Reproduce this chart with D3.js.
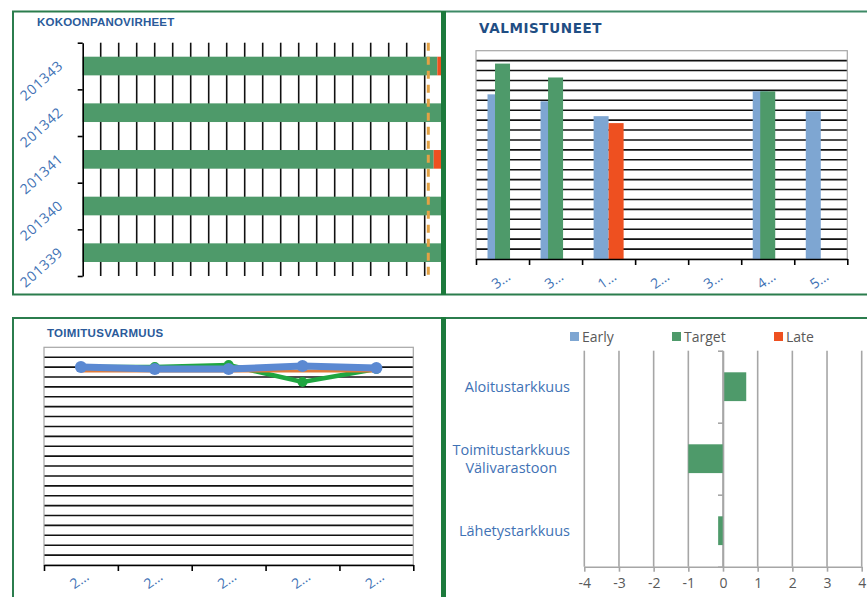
<!DOCTYPE html>
<html><head><meta charset="utf-8">
<script src="https://cdn.jsdelivr.net/npm/d3@7"></script>
<style>body{margin:0;background:#fff;} svg{display:block;}</style>
</head><body>
<svg id="c" width="867" height="597"></svg>
<script>
// ---------------- data ----------------
const weeks = ["201339", "201340", "201341", "201342", "201343"];
const assemblyOk = [20.5, 20.5, 19.5, 20.5, 19.7];
const assemblyLate = [0, 0, 1.5, 0, 1.5];
const assemblyLimit = 19.2;
const assemblyGrid = d3.range(1, 20);

const completedCats = ["3…", "3…", "1…", "2…", "3…", "4…", "5…"];
const completedEarly = [16.6, 15.9, 14.4, 0, 0, 16.9, 14.9];
const completedTarget = [19.7, 18.3, 0, 0, 0, 16.9, 0];
const completedLate = [0, 0, 13.7, 0, 0, 0, 0];
const completedGrid = d3.range(1, 21);

const deliveryCats = ["2…", "2…", "2…", "2…", "2…"];
const deliveryActual = [20.0, 19.8, 19.8, 20.1, 19.9];
const deliveryTarget = [20.0, 20.0, 20.2, 18.5, 19.8];
const deliveryLimit = [19.6, 19.6, 19.6, 19.6, 19.6];
const deliveryGrid = d3.range(1, 22);

const accuracyCats = ["Aloitustarkkuus", "Toimitustarkkuus\nVälivarastoon", "Lähetystarkkuus"];
const accuracyEarly = [0, 0, 0];
const accuracyTarget = [0.67, -1.0, -0.14];
const accuracyLate = [0, 0, 0];
const accuracyTicks = [-4, -3, -2, -1, 0, 1, 2, 3, 4];
const seriesNames = ["Early", "Target", "Late"];

// ---------------- styles ----------------
const C = { early: "#7ea6d2", target: "#4e9a6a", late: "#ee5020", frame: "#2b7d4d", thick: "#1c7a3c",
            title: "#2a5a9a", label: "#3f72b5", grid: "#111", border: "#a6a6a6" };
const FONT = "'Open Sans', 'Liberation Sans', sans-serif";

const svg = d3.select("#c");
const defs = svg.append("defs");

// ================= Panel 1: KOKOONPANOVIRHEET =================
defs.append("clipPath").attr("id", "clip1").append("rect").attr("x", 14).attr("y", 12).attr("width", 427).attr("height", 282);
const p1 = svg.append("g").attr("clip-path", "url(#clip1)");
const x1 = d3.scaleLinear().domain([0, 19]).range([82.7, 424.7]);
const y1 = d3.scaleBand().domain(weeks).range([276, 42.7]).paddingInner(0.6).paddingOuter(0.3);
const y1b = d3.scaleLinear().domain([0, weeks.length]).range([276, 42.7]);

p1.selectAll(".g1").data(assemblyGrid).join("line")
  .attr("x1", d => x1(d)).attr("x2", d => x1(d)).attr("y1", 42.7).attr("y2", 276)
  .attr("stroke", C.grid).attr("stroke-width", 1.6);

p1.selectAll(".ok").data(weeks).join("rect")
  .attr("x", x1(0)).attr("y", d => y1(d)).attr("height", y1.bandwidth())
  .attr("width", (d, i) => x1(assemblyOk[i]) - x1(0)).attr("fill", C.target);
p1.selectAll(".late").data(weeks).join("rect")
  .attr("x", (d, i) => x1(assemblyOk[i])).attr("y", d => y1(d)).attr("height", y1.bandwidth())
  .attr("width", (d, i) => x1(assemblyOk[i] + assemblyLate[i]) - x1(assemblyOk[i])).attr("fill", C.late);

p1.append("line").attr("x1", x1(assemblyLimit)).attr("x2", x1(assemblyLimit)).attr("y1", 42.7).attr("y2", 276)
  .attr("stroke", "#e3a245").attr("stroke-width", 3).attr("stroke-dasharray", "8,6");

p1.append("g").attr("transform", `translate(${x1(0)},0)`)
  .call(d3.axisLeft(y1b).tickValues(d3.range(weeks.length + 1)).tickFormat("").tickSize(5).tickSizeOuter(0))
  .call(g => g.selectAll("line,path").attr("stroke", "#000").attr("stroke-width", 1.6));

p1.selectAll(".wk").data(weeks).join("text")
  .attr("transform", d => `translate(64,${y1(d) + y1.bandwidth() / 2 + 1}) rotate(-42)`)
  .attr("text-anchor", "end").attr("font-family", FONT).attr("font-size", 14).attr("letter-spacing", 0.6)
  .attr("fill", C.label).text(d => d);

svg.append("text").attr("x", 37).attr("y", 26).attr("font-family", "'Liberation Sans', sans-serif")
  .attr("font-weight", "bold").attr("font-size", 11.5).attr("letter-spacing", 0.2).attr("fill", C.title).text("KOKOONPANOVIRHEET");

// ================= Panel 2: VALMISTUNEET =================
const x2 = d3.scaleBand().domain(d3.range(completedCats.length)).range([476, 847.3]);
const x2b = d3.scaleLinear().domain([0, completedCats.length]).range([476, 847.3]);
const y2 = d3.scaleLinear().domain([0, 21]).range([259, 50.7]);
const sub2 = d3.scalePoint().domain(seriesNames).range([x2.step() * 0.217, x2.step() * 0.5]);
const bw2 = x2.step() * 0.283;
const p2 = svg.append("g");

p2.selectAll(".g2").data(completedGrid).join("line")
  .attr("x1", 476).attr("x2", 847.3).attr("y1", d => y2(d)).attr("y2", d => y2(d))
  .attr("stroke", C.grid).attr("stroke-width", 1.6);
p2.append("rect").attr("x", 476).attr("y", y2(21)).attr("width", 847.3 - 476).attr("height", y2(0) - y2(21))
  .attr("fill", "none").attr("stroke", C.border).attr("stroke-width", 1.2);

const comp = [["Early", completedEarly, C.early], ["Target", completedTarget, C.target], ["Late", completedLate, C.late]];
comp.forEach(([name, vals, col]) => {
  p2.selectAll(".b" + name).data(vals).join("rect")
    .attr("x", (d, i) => x2(i) + sub2(name)).attr("width", bw2)
    .attr("y", d => y2(d)).attr("height", d => y2(0) - y2(d)).attr("fill", col);
});

p2.append("g").attr("transform", `translate(0,${y2(0)})`)
  .call(d3.axisBottom(x2b).tickValues(d3.range(completedCats.length + 1)).tickFormat("").tickSize(6).tickSizeOuter(0))
  .call(g => g.selectAll("line,path").attr("stroke", "#000").attr("stroke-width", 1.6));

p2.selectAll(".xl2").data(completedCats).join("text")
  .attr("transform", (d, i) => `translate(${x2(i) + x2.step() / 2 - 1},281) rotate(-35)`)
  .attr("text-anchor", "middle").attr("dominant-baseline", "middle")
  .attr("font-family", FONT).attr("font-size", 14).attr("fill", C.label).text(d => d);

svg.append("text").attr("x", 479).attr("y", 33).attr("font-family", "'DejaVu Sans', sans-serif")
  .attr("font-weight", "bold").attr("font-size", 13.5).attr("letter-spacing", 0.6).attr("fill", "#1f4e84").text("VALMISTUNEET");

// ================= Panel 3: TOIMITUSVARMUUS =================
const x3 = d3.scalePoint().domain(d3.range(deliveryCats.length)).range([44, 413.3]).padding(0.5);
const x3b = d3.scaleLinear().domain([0, deliveryCats.length]).range([44, 413.3]);
const y3 = d3.scaleLinear().domain([0, 22]).range([565, 347.3]);
const p3 = svg.append("g");

p3.selectAll(".g3").data(deliveryGrid).join("line")
  .attr("x1", 44).attr("x2", 413.3).attr("y1", d => y3(d)).attr("y2", d => y3(d))
  .attr("stroke", C.grid).attr("stroke-width", 1.6);
p3.append("rect").attr("x", 44).attr("y", y3(22)).attr("width", 413.3 - 44).attr("height", y3(0) - y3(22))
  .attr("fill", "none").attr("stroke", C.border).attr("stroke-width", 1.2);
p3.append("g").attr("transform", `translate(0,${y3(0)})`)
  .call(d3.axisBottom(x3b).tickValues(d3.range(deliveryCats.length + 1)).tickFormat("").tickSize(6).tickSizeOuter(0))
  .call(g => g.selectAll("line,path").attr("stroke", "#000").attr("stroke-width", 1.6));

const line3 = vals => d3.line().x((d, i) => x3(i)).y(d => y3(d))(vals);
p3.append("path").attr("d", line3(deliveryTarget)).attr("fill", "none").attr("stroke", "#1fa640").attr("stroke-width", 4.5);
p3.selectAll(".mt").data(deliveryTarget).join("circle").attr("cx", (d, i) => x3(i)).attr("cy", d => y3(d)).attr("r", 5).attr("fill", "#1fa640");
p3.append("path").attr("d", line3(deliveryLimit)).attr("fill", "none").attr("stroke", "#e07b39").attr("stroke-width", 3);
p3.append("path").attr("d", line3(deliveryActual)).attr("fill", "none").attr("stroke", "#5b89d2").attr("stroke-width", 7);
p3.selectAll(".ma").data(deliveryActual).join("circle").attr("cx", (d, i) => x3(i)).attr("cy", d => y3(d)).attr("r", 6).attr("fill", "#5b89d2");

p3.selectAll(".xl3").data(deliveryCats).join("text")
  .attr("transform", (d, i) => `translate(${x3(i) - 1},581) rotate(-35)`)
  .attr("text-anchor", "middle").attr("dominant-baseline", "middle")
  .attr("font-family", FONT).attr("font-size", 14).attr("fill", C.label).text(d => d);

svg.append("text").attr("x", 47).attr("y", 337).attr("font-family", "'Liberation Sans', sans-serif")
  .attr("font-weight", "bold").attr("font-size", 11.5).attr("letter-spacing", 0.3).attr("fill", C.title).text("TOIMITUSVARMUUS");

// ================= Panel 4: accuracy =================
const x4 = d3.scaleLinear().domain([-4, 4]).range([584.3, 861.7]);
const y4 = d3.scaleBand().domain(accuracyCats).range([350.7, 566.7]).paddingInner(0.6).paddingOuter(0.3);
const y4b = d3.scaleLinear().domain([0, accuracyCats.length]).range([350.7, 566.7]);
const p4 = svg.append("g");

p4.selectAll(".g4").data(accuracyTicks).join("line")
  .attr("x1", d => x4(d)).attr("x2", d => x4(d)).attr("y1", 350.7).attr("y2", 566.7)
  .attr("stroke", C.border).attr("stroke-width", 1.6);

const table4 = accuracyCats.map((c, i) => ({ cat: c, Early: accuracyEarly[i], Target: accuracyTarget[i], Late: accuracyLate[i] }));
const stack4 = d3.stack().keys(seriesNames).offset(d3.stackOffsetDiverging)(table4);
const col4 = { Early: C.early, Target: C.target, Late: C.late };
stack4.forEach(s => {
  p4.selectAll(".s" + s.key).data(s).join("rect")
    .attr("x", d => x4(Math.min(d[0], d[1]))).attr("width", d => Math.abs(x4(d[1]) - x4(d[0])))
    .attr("y", d => y4(d.data.cat)).attr("height", y4.bandwidth()).attr("fill", col4[s.key]);
});

p4.append("g").attr("transform", `translate(0,566.7)`)
  .call(d3.axisBottom(x4).tickValues(accuracyTicks).tickFormat(d => String(d)).tickSize(5).tickSizeOuter(0).tickPadding(6))
  .call(g => g.selectAll("line,path").attr("stroke", C.border).attr("stroke-width", 1.6))
  .call(g => g.selectAll("text").attr("font-family", FONT).attr("font-size", 14).attr("fill", "#595959"));
p4.append("g").attr("transform", `translate(${x4(0)},0)`)
  .call(d3.axisLeft(y4b).tickValues(d3.range(accuracyCats.length + 1)).tickFormat("").tickSize(5).tickSizeOuter(0))
  .call(g => g.selectAll("line,path").attr("stroke", C.border).attr("stroke-width", 1.6));

accuracyCats.forEach(c => {
  const lines = c.split("\n");
  const cy = y4(c) + y4.bandwidth() / 2;
  const t = p4.append("text").attr("font-family", FONT).attr("font-size", 14.5).attr("fill", C.label)
    .attr("text-anchor", "middle");
  lines.forEach(ln => t.append("tspan").text(ln));
  const tsp = t.selectAll("tspan").nodes();
  const widths = tsp.map(n => n.getComputedTextLength());
  const maxW = Math.max(...widths);
  const cx = 570 - maxW / 2;
  tsp.forEach((n, j) => d3.select(n).attr("x", cx).attr("y", cy + 5 + (j - (lines.length - 1) / 2) * 18));
});

// legend
const leg = p4.append("g").attr("transform", "translate(0,337)");
const legX = d3.scalePoint().domain(seriesNames).range([570, 774]);
seriesNames.forEach(n => {
  leg.append("rect").attr("x", legX(n)).attr("y", -5).attr("width", 9).attr("height", 9).attr("fill", col4[n]);
  leg.append("text").attr("x", legX(n) + 12).attr("y", 5).attr("font-family", FONT).attr("font-size", 14)
    .attr("fill", "#595959").text(n);
});

// ================= frames =================
const fr = svg.append("g").attr("fill", "none");
fr.append("path").attr("d", "M441,11.5 H13 V294.5 H867").attr("stroke", C.frame).attr("stroke-width", 2);
fr.append("path").attr("d", "M441,11.5 H867").attr("stroke", "#3d8a66").attr("stroke-width", 2);
fr.append("path").attr("d", "M13,597 V318 H867").attr("stroke", C.frame).attr("stroke-width", 2);
fr.append("rect").attr("x", 441).attr("y", 11).attr("width", 5).attr("height", 284).attr("fill", C.thick);
fr.append("rect").attr("x", 441).attr("y", 317).attr("width", 5).attr("height", 280).attr("fill", C.thick);
</script>
</body></html>
